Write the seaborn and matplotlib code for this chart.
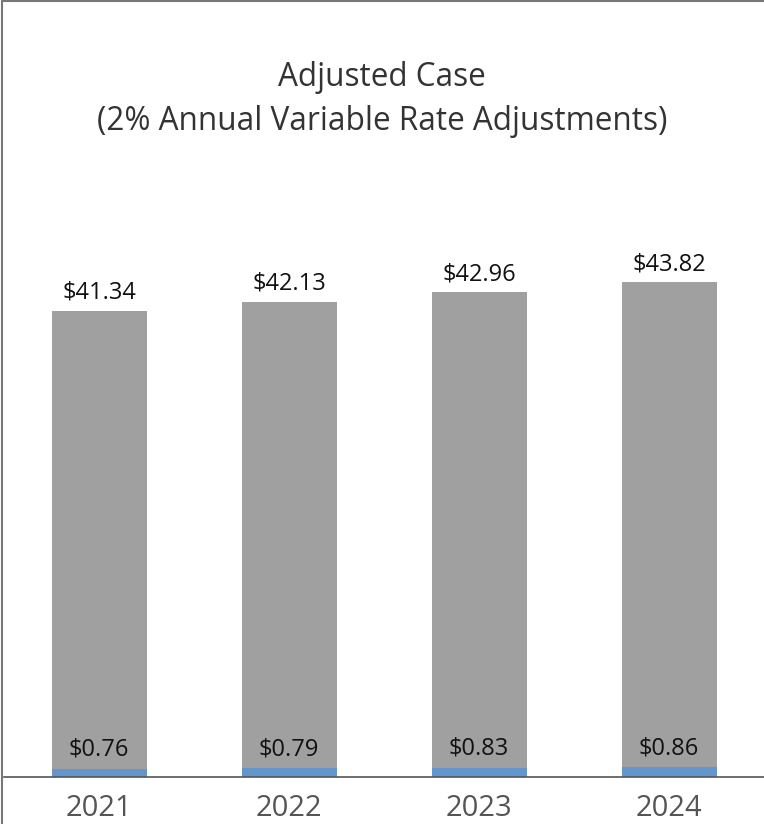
import matplotlib
matplotlib.use("Agg")
import matplotlib.pyplot as plt
import seaborn as sns
import pandas as pd
import numpy as np
from matplotlib.lines import Line2D

years = ["2021", "2022", "2023", "2024"]
fixed_vals = [41.34, 42.13, 42.96, 43.82]
variable_vals = [0.76, 0.79, 0.83, 0.86]
title_lines = ["Adjusted Case", "(2% Annual Variable Rate Adjustments)"]

sns.set_theme(style="white")
plt.rcParams['font.family'] = ['Open Sans', 'DejaVu Sans']

df = pd.DataFrame({"year": years, "fixed": fixed_vals, "variable": variable_vals})
df["total"] = df["fixed"] + df["variable"]

fig = plt.figure(figsize=(7.64, 8.24), dpi=100)
W, H = 764, 824
ax = fig.add_axes([4 / W, (H - 777) / H, 760 / W, (777 - 200) / H])

sns.barplot(data=df, x="year", y="total", color="#a0a0a0", saturation=1,
            width=0.5, ax=ax, edgecolor="none", linewidth=0)
sns.barplot(data=df, x="year", y="variable", color="#6296cc", saturation=1,
            width=0.5, ax=ax, edgecolor="none", linewidth=0)

px = 1 / 11.07
ax.set_xlim(-0.5, 3.5)
ax.set_ylim(0, (777 - 200) * px)

for i, r in df.iterrows():
    ax.text(i, r["total"] + 6 * px, f"${r['fixed']:.2f}", ha="center", va="bottom",
            fontsize=17, color="#111111")
    ax.text(i, r["variable"] + 7 * px, f"${r['variable']:.2f}", ha="center", va="bottom",
            fontsize=17, color="#111111")

ax.set_xlabel("")
ax.set_ylabel("")
ax.set_yticks([])
ax.tick_params(axis="x", length=0, pad=12, labelsize=21, labelcolor="#555555")
for s in ["top", "right", "left"]:
    ax.spines[s].set_visible(False)
ax.spines["bottom"].set_color("#555555")
ax.spines["bottom"].set_linewidth(1.2)

fig.text(382 / W, 1 - 77 / H, title_lines[0], ha="center", va="center", fontsize=22.7, color="#333333")
fig.text(382 / W, 1 - 122 / H, title_lines[1], ha="center", va="center", fontsize=22.7, color="#333333")

fig.add_artist(Line2D([2 / W, 2 / W], [0, 1 - 1 / H], transform=fig.transFigure, color="#777777", lw=1.5))
fig.add_artist(Line2D([2 / W, 1], [1 - 1 / H, 1 - 1 / H], transform=fig.transFigure, color="#777777", lw=1.5))

fig.savefig("out.png", dpi=100)
